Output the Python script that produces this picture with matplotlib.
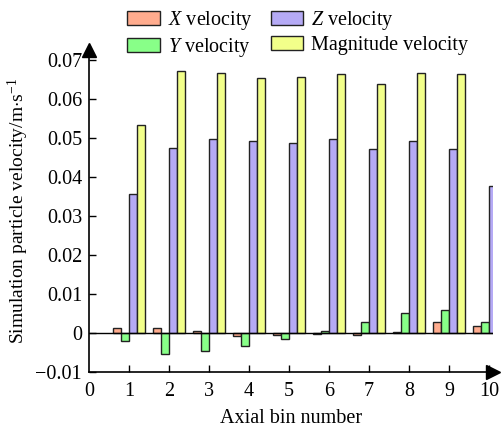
import numpy as np
import matplotlib.pyplot as plt
from matplotlib.patches import Patch

plt.rcParams['font.family'] = ['Liberation Serif', 'DejaVu Serif']
plt.rcParams['mathtext.fontset'] = 'custom'
plt.rcParams['mathtext.rm'] = 'Liberation Serif'
plt.rcParams['mathtext.it'] = 'Liberation Serif:italic'

bins = np.arange(1, 11)
x_vel = [0.0012, 0.0012, 0.0006, -0.0008, -0.0006, -0.0003, -0.0006, 0.0002, 0.0027, 0.0017]
y_vel = [-0.0021, -0.0053, -0.0045, -0.0034, -0.0015, 0.0006, 0.0028, 0.0051, 0.0058, 0.0027]
z_vel = [0.0355, 0.0473, 0.0498, 0.0492, 0.0487, 0.0496, 0.0472, 0.0491, 0.0472, 0.0376]
mag_vel = [0.0532, 0.0670, 0.0667, 0.0654, 0.0657, 0.0663, 0.0639, 0.0666, 0.0664, 0.0561]

series = [x_vel, y_vel, z_vel, mag_vel]
labels = ['$X$ velocity', '$Y$ velocity', '$Z$ velocity', 'Magnitude velocity']
colors = ['#FFAC8E', '#88FF88', '#B5AAF5', '#F2FF8A']

fig = plt.figure(figsize=(5.04, 4.28), dpi=100)
ax = fig.add_axes([0.1766, 0.1308, 0.8016, 0.7523])

w = 0.2
offs = [-0.3, -0.1, 0.1, 0.3]
for s, c, o in zip(series, colors, offs):
    ax.bar(bins + o, s, width=w, color=c, edgecolor='#222222', linewidth=1.0)

ax.axhline(0, color='black', linewidth=1.0)
ax.set_xlim(0, 10.1)
ax.set_ylim(-0.01, 0.0725)
ax.set_xticks(range(0, 11))
ax.set_xticklabels([str(i) for i in range(0, 11)])
ax.set_yticks(np.arange(-0.01, 0.0701, 0.01))
ax.set_yticklabels(['\u22120.01', '0', '0.01', '0.02', '0.03', '0.04', '0.05', '0.06', '0.07'])
ax.tick_params(direction='in', length=5, width=1, labelsize=14.5)
ax.tick_params(axis='x', pad=7)
ax.tick_params(axis='y', pad=5)
ax.xaxis.get_major_ticks()[0].tick1line.set_visible(False)
for sp in ['top', 'right']:
    ax.spines[sp].set_visible(False)
ax.spines['left'].set_linewidth(1.2)
ax.spines['bottom'].set_linewidth(1.2)
ax.plot(1.0, 0, '>', color='black', markersize=10, transform=ax.transAxes, clip_on=False)
ax.plot(0, 1.0, '^', color='black', markersize=10, transform=ax.transAxes, clip_on=False)

ax.set_xlabel('Axial bin number', fontsize=14.5, labelpad=6)
ax.set_ylabel('Simulation particle velocity/m$\\cdot$s$^{-1}$', fontsize=14, labelpad=3)

handles = [Patch(facecolor=c, edgecolor='#222222', linewidth=1.0) for c in colors]
fig.legend(handles, labels, ncol=2, frameon=False, fontsize=14.5,
           loc='upper left', bbox_to_anchor=(0.229, 1.007),
           handlelength=1.6, handleheight=0.65, handletextpad=0.4,
           columnspacing=0.9, labelspacing=0.2, borderaxespad=0.2)

fig.savefig('out.png', dpi=100)
